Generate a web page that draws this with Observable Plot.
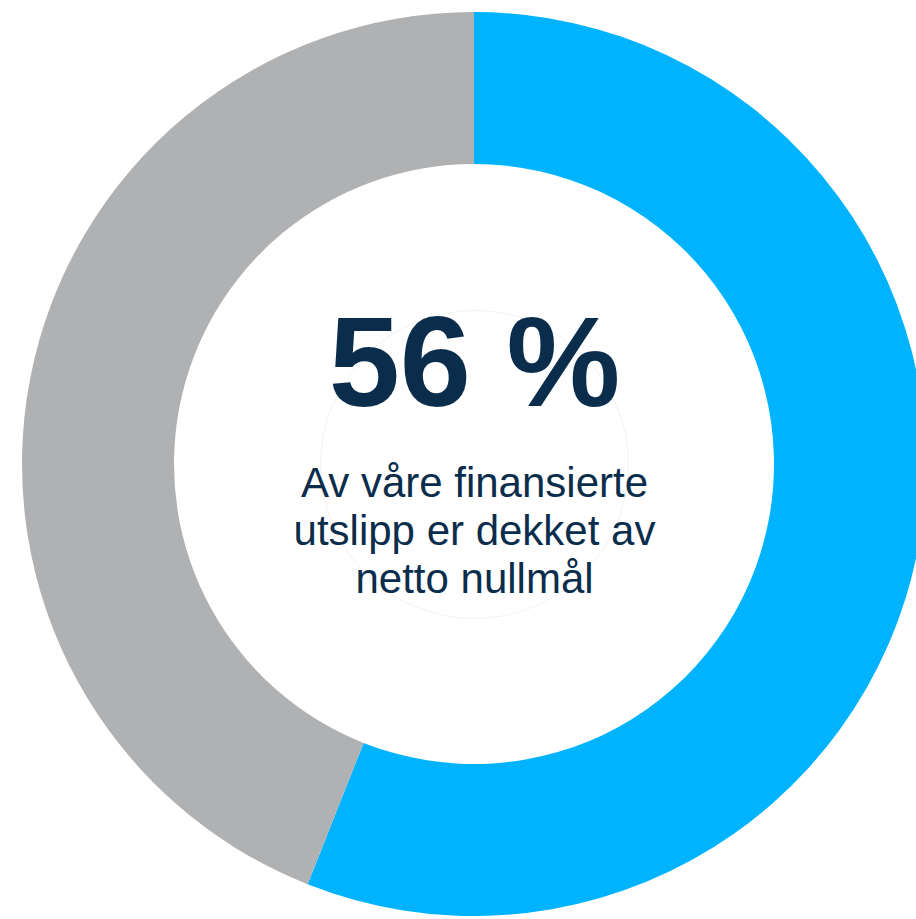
<!DOCTYPE html>
<html>
<head>
<meta charset="utf-8">
<script src="https://cdn.jsdelivr.net/npm/d3@7"></script>
<script src="https://cdn.jsdelivr.net/npm/@observablehq/plot@0.6"></script>
<style>
  html, body { margin: 0; padding: 0; background: #ffffff; overflow: hidden; }
  #chart svg { display: block; }
</style>
</head>
<body>
<div id="chart"></div>
<script>
// ---- data ----
const categories = ["Dekket av netto nullmål", "Ikke dekket"];
const values = [56, 44];
const headline = "56 %";
const subtitleLines = ["Av våre finansierte", "utslipp er dekket av", "netto nullmål"];

// ---- styling / layout ----
const sliceColors = ["#00b3ff", "#b0b1b3"];
const textColor = "#0b2d4c";
const W = 916, H = 919;
const CX = 474, CY = 464;
const R_OUT = 452, R_IN = 300;

const shares = categories.map((c, i) => ({category: c, value: values[i]}));

function ringMark(index, scales) {
  const cx = scales.x(0), cy = scales.y(0);
  const rOut = scales.x(R_OUT) - scales.x(0);
  const rIn = scales.x(R_IN) - scales.x(0);
  const color = d3.scaleOrdinal(categories, sliceColors);
  const arcs = d3.pie().sort(null).value(d => d.value).startAngle(0).endAngle(2 * Math.PI)(shares);
  const arc = d3.arc().innerRadius(rIn).outerRadius(rOut);
  const g = d3.create("svg:g").attr("transform", `translate(${cx},${cy})`);
  g.selectAll("path").data(arcs).join("path")
    .attr("d", arc)
    .attr("fill", d => color(d.data.category));
  return g.node();
}

const plot = Plot.plot({
  width: W,
  height: H,
  margin: 0,
  x: {domain: [-CX, W - CX], range: [0, W], axis: null},
  y: {domain: [-CY, H - CY], range: [0, H], axis: null},
  style: {background: "#ffffff", fontFamily: "'Liberation Sans', Arial, sans-serif"},
  marks: [
    ringMark,
    Plot.dot([0], {x: () => 0, y: () => 0, r: 154, stroke: "#f1f3f5", strokeWidth: 1, fill: "none"}),
    Plot.text([headline], {
      x: () => 0, y: () => -99,
      text: d => d,
      fontSize: 128, fontWeight: "bold", fill: textColor, textAnchor: "middle"
    }),
    Plot.text(subtitleLines, {
      x: () => 0, y: (d, i) => 19 + i * 48,
      text: d => d,
      fontSize: 42, fill: textColor, textAnchor: "middle"
    })
  ]
});

document.getElementById("chart").appendChild(plot);
</script>
</body>
</html>
